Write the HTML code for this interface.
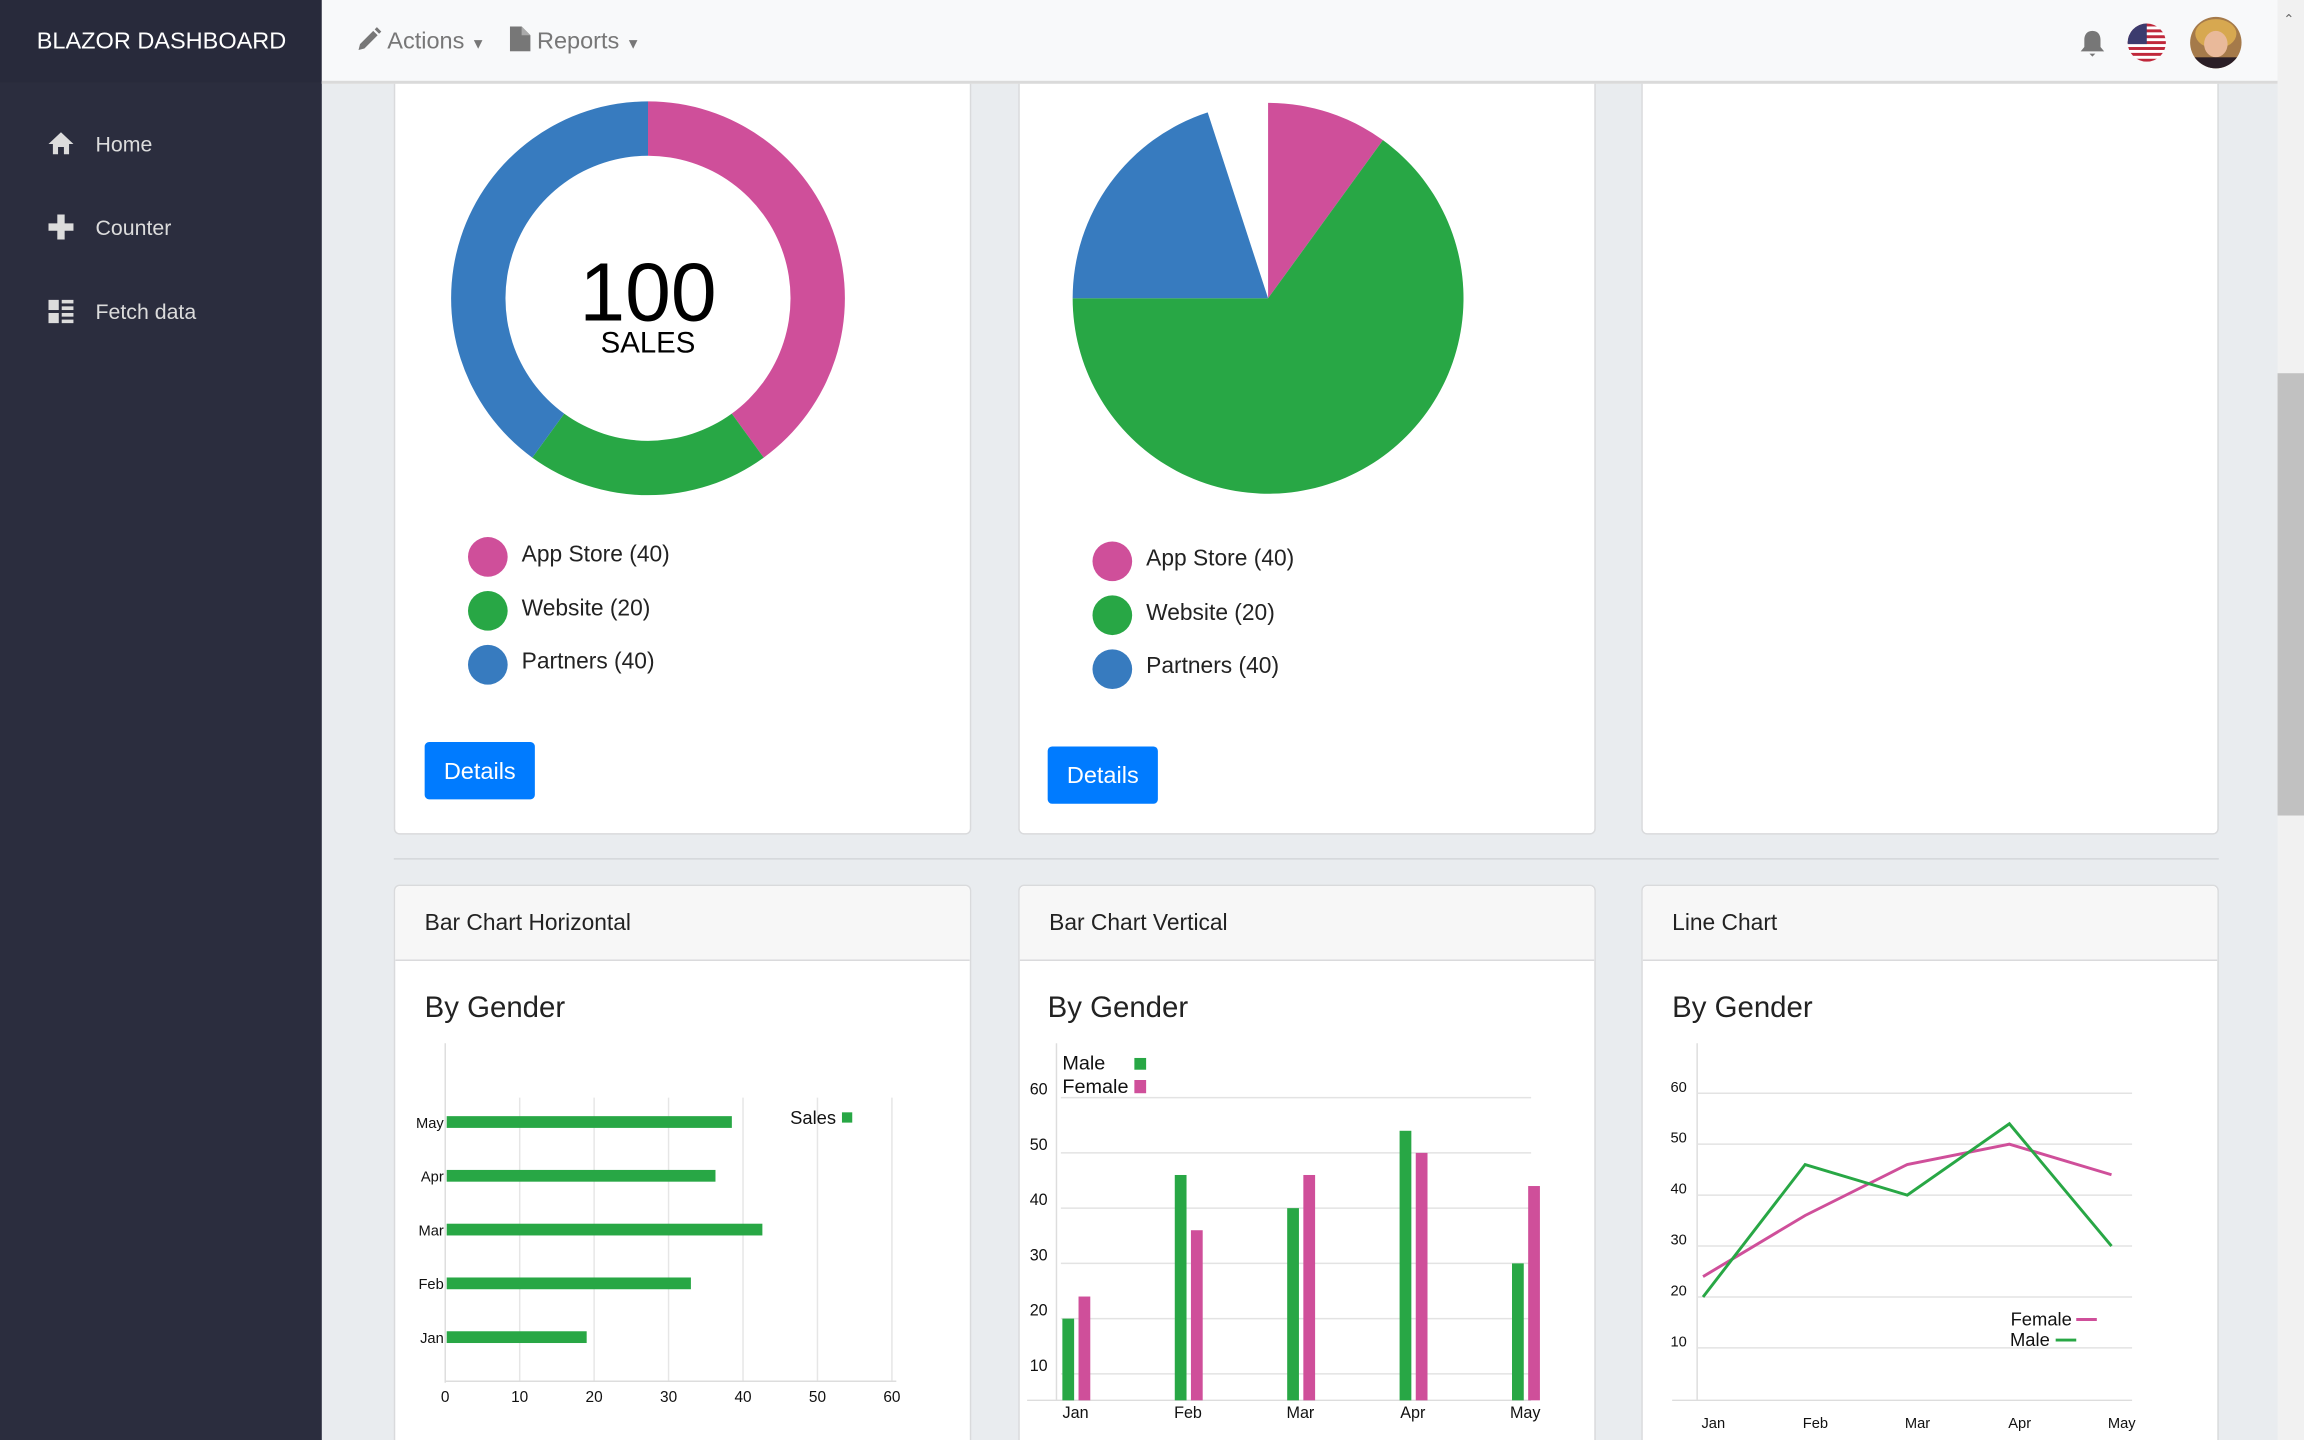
<!DOCTYPE html>
<html><head><meta charset="utf-8">
<style>
html,body{margin:0;padding:0;width:2304px;height:1440px;overflow:hidden;background:#e9ecef;font-family:"Liberation Sans",sans-serif}
#wrap{position:absolute;left:0;top:0;width:1568px;height:980px;overflow:hidden;transform:scale(1.469388);transform-origin:0 0;background:#e9ecef}
.abs{position:absolute}
#side{left:0;top:0;width:219px;height:980px;background:#2b2d3e}
#brand{left:0;top:0;width:219px;height:56px;background:#282a3b;color:#fff;font-size:16px;line-height:58px;text-indent:25px}
.nav{left:0;width:219px;height:30px;color:#dcdcdc;font-size:14.5px;line-height:32px}
.nav span{position:absolute;left:65px}
#top{left:219px;top:0;width:1331px;height:55px;background:#f8f9fa;border-bottom:2px solid #dadada}
.tb{color:#777;font-size:16px;line-height:58px}
.card{background:#fff;border:1px solid #d9dadc;border-radius:4px;box-sizing:border-box}
.hdr{background:#f7f7f7;border-bottom:1px solid #d9dadc;height:50px;line-height:52px;padding-left:20px;font-size:15.5px;color:#222;border-radius:4px 4px 0 0}
.bg{font-size:20px;color:#222}
.leg{font-size:15.5px;color:#222}
.btn{background:#007bff;color:#fff;font-size:16px;border-radius:3px;text-align:center}
#scroll{left:1550px;top:0;width:18px;height:980px;background:#f1f1f1}
</style></head><body>
<div id="wrap">
<div id="side" class="abs"></div>
<div id="brand" class="abs">BLAZOR DASHBOARD</div>
<div class="abs nav" style="top:83px">
 <svg class="abs" style="left:33px;top:6px" width="17" height="17" viewBox="0 0 17 17"><path d="M8.5 1 L17 9 H14 V16 H10.5 V11 H6.5 V16 H3 V9 H0 Z" fill="#dcdcdc"/></svg><span>Home</span></div>
<div class="abs nav" style="top:140px">
 <svg class="abs" style="left:33px;top:6px" width="17" height="17" viewBox="0 0 17 17"><path d="M6 0H11V6H17V11H11V17H6V11H0V6H6Z" fill="#dcdcdc"/></svg><span>Counter</span></div>
<div class="abs nav" style="top:197px">
 <svg class="abs" style="left:33px;top:7px" width="17" height="16" viewBox="0 0 17 16"><g fill="#dcdcdc"><rect x="0" y="0" width="7" height="7"/><rect x="0" y="9" width="7" height="7"/><rect x="9" y="0" width="8" height="2.5"/><rect x="9" y="4.5" width="8" height="2.5"/><rect x="9" y="9" width="8" height="2.5"/><rect x="9" y="13.5" width="8" height="2.5"/></g></svg><span>Fetch data</span></div>

<!-- Row 1 cards -->
<div class="abs card" style="left:268px;top:40px;width:393px;height:528px"></div>
<div class="abs card" style="left:693px;top:40px;width:393px;height:528px"></div>
<div class="abs card" style="left:1117px;top:40px;width:393px;height:528px"></div>

<div id="top" class="abs"></div>
<div class="abs tb" style="left:243px;top:0">
 <svg style="vertical-align:-2px" width="17" height="17" viewBox="0 0 17 17"><path d="M1 16 L2 12 L11 3 L14 6 L5 15 Z M12 2 L13.5 0.5 L16.5 3.5 L15 5 Z" fill="#777"/></svg> Actions <span style="font-size:10px">&#9660;</span></div>
<div class="abs tb" style="left:347px;top:0">
 <svg style="vertical-align:-2px" width="14" height="17" viewBox="0 0 14 17"><path d="M0 0 H8 L14 6 V17 H0 Z" fill="#777"/><path d="M8 0 V6 H14" fill="#aaa"/></svg> Reports <span style="font-size:10px">&#9660;</span></div>
<svg class="abs" style="left:1412px;top:18px" width="24" height="24" viewBox="0 0 24 24"><path d="M12 3 C8 3 6.5 6 6.5 9 V14 L4 17 H20 L17.5 14 V9 C17.5 6 16 3 12 3 Z" fill="#777"/><path d="M10 18.5 H14 L12 20.5 Z" fill="#777"/></svg>
<svg class="abs" style="left:1447px;top:15px" width="28" height="28" viewBox="0 0 28 28">
 <defs><clipPath id="fc"><circle cx="14" cy="14" r="13"/></clipPath></defs>
 <g clip-path="url(#fc)"><rect width="28" height="28" fill="#fff"/>
 <g fill="#c0283b"><rect y="1" width="28" height="2"/><rect y="5" width="28" height="2"/><rect y="9" width="28" height="2"/><rect y="13" width="28" height="2"/><rect y="17" width="28" height="2"/><rect y="21" width="28" height="2"/><rect y="25" width="28" height="2"/></g>
 <rect width="14" height="15" fill="#3c3b6e"/></g></svg>
<svg class="abs" style="left:1490px;top:11px" width="36" height="36" viewBox="0 0 36 36">
 <defs><clipPath id="ac"><circle cx="18" cy="18" r="17.5"/></clipPath></defs>
 <g clip-path="url(#ac)"><rect width="36" height="36" fill="#a57a4a"/><ellipse cx="18" cy="12" rx="14" ry="10" fill="#d7a850"/><ellipse cx="18" cy="19" rx="8" ry="9" fill="#e9b99a"/><rect y="28" width="36" height="10" fill="#2a1e26"/></g></svg>
<div id="scroll" class="abs"><div class="abs" style="left:0;top:254px;width:18px;height:301px;background:#c1c1c1"></div><div class="abs" style="left:4px;top:8px;font-size:9px;color:#666">&#8963;</div></div>

<div class="abs leg" style="left:355px;top:369px">App Store (40)</div>
<div class="abs leg" style="left:355px;top:406px">Website (20)</div>
<div class="abs leg" style="left:355px;top:442px">Partners (40)</div>
<div class="abs btn" style="left:289px;top:505px;width:75px;height:39px;line-height:41px">Details</div>
<div class="abs leg" style="left:780px;top:372px">App Store (40)</div>
<div class="abs leg" style="left:780px;top:409px">Website (20)</div>
<div class="abs leg" style="left:780px;top:445px">Partners (40)</div>
<div class="abs btn" style="left:713px;top:508px;width:75px;height:39px;line-height:41px">Details</div>

<div class="abs" style="left:268px;top:584px;width:1242px;height:1px;background:#d4d6d9"></div>

<!-- Row 2 cards -->
<div class="abs card" style="left:268px;top:602px;width:393px;height:420px"><div class="hdr">Bar Chart Horizontal</div></div>
<div class="abs card" style="left:693px;top:602px;width:393px;height:420px"><div class="hdr">Bar Chart Vertical</div></div>
<div class="abs card" style="left:1117px;top:602px;width:393px;height:420px"><div class="hdr">Line Chart</div></div>
<div class="abs bg" style="left:289px;top:675px">By Gender</div>
<div class="abs bg" style="left:713px;top:675px">By Gender</div>
<div class="abs bg" style="left:1138px;top:675px">By Gender</div>

<svg id="ch" class="abs" style="left:0;top:0" width="1568" height="980" font-family="Liberation Sans, sans-serif"></svg>
</div>
<script>
// Donut
const donutLabels=["App Store","Website","Partners"];
const donutValues=[40,20,40];
const donutColors=["#cf4f9a","#28a745","#377bbf"];
// Pie (fractions of full circle as drawn)
const pieValues=[10,65,20];
// Horizontal bar
const hbarCats=["Jan","Feb","Mar","Apr","May"];
const hbarValues=[19,33,42.6,36.3,38.5];
const hbarTicks=[0,10,20,30,40,50,60];
// Vertical bar
const months=["Jan","Feb","Mar","Apr","May"];
const maleValues=[20,46,40,54,30];
const femaleValues=[24,36,46,50,44];
const vTicks=[10,20,30,40,50,60];
// Line chart
const lineMale=[20,46,40,54,30];
const lineFemale=[24,36,46,50,44];
const lTicks=[10,20,30,40,50,60];

const NS="http://www.w3.org/2000/svg";
const svg=document.getElementById('ch');
function mk(tag,attrs,parent){const e=document.createElementNS(NS,tag);for(const k in attrs)e.setAttribute(k,attrs[k]);(parent||svg).appendChild(e);return e;}
function arcPath(cx,cy,r0,r1,a0,a1){
 const p=(r,a)=>[cx+r*Math.sin(a),cy-r*Math.cos(a)];
 const large=(a1-a0)>Math.PI?1:0;
 const [x1,y1]=p(r1,a0),[x2,y2]=p(r1,a1);
 if(r0===0)return `M${cx},${cy}L${x1},${y1}A${r1},${r1} 0 ${large} 1 ${x2},${y2}Z`;
 const [x3,y3]=p(r0,a1),[x4,y4]=p(r0,a0);
 return `M${x1},${y1}A${r1},${r1} 0 ${large} 1 ${x2},${y2}L${x3},${y3}A${r0},${r0} 0 ${large} 0 ${x4},${y4}Z`;
}
// donut
{let tot=donutValues.reduce((a,b)=>a+b,0),a=0;
donutValues.forEach((v,i)=>{const a1=a+v/tot*2*Math.PI;
 const e=mk('path',{d:arcPath(441,203,97,134,a,a1),fill:donutColors[i]});
 
 a=a1;});
let t=mk('text',{x:441,y:218,'text-anchor':'middle','font-size':56,fill:'#000'});t.textContent='100';

t=mk('text',{x:441,y:240,'text-anchor':'middle','font-size':20,fill:'#000'});t.textContent='SALES';

donutColors.forEach((c,i)=>{const e=mk('circle',{cx:332,cy:379+i*36.7,r:13.5,fill:c});
 
 const f=mk('circle',{cx:757,cy:382+i*36.7,r:13.5,fill:c});
 });
}
// pie
{let a=0;
pieValues.forEach((v,i)=>{const a1=a+v/100*2*Math.PI;
 const e=mk('path',{d:arcPath(863,203,0,133,a,a1),fill:donutColors[i]});
 
 a=a1;});}

// horizontal bar
{const x0=303,xs=(607-303)/60,x=v=>x0+v*xs;
const yc=i=>910-i*36.6;
mk('line',{x1:303,y1:710,x2:303,y2:941,stroke:'#ddd'});
hbarTicks.forEach(t=>{
 if(t>0){const g=mk('line',{x1:x(t),y1:747,x2:x(t),y2:940,stroke:'#e6e6e6'});
 }
 const l=mk('text',{x:x(t),y:954,'text-anchor':'middle','font-size':10.5,fill:'#111'});l.textContent=t;
 });
mk('line',{x1:303,y1:940,x2:610,y2:940,stroke:'#ddd'});
hbarCats.forEach((c,i)=>{
 const b=mk('rect',{x:x0+1,y:yc(i)-4,width:x(hbarValues[i])-x0-1,height:8,fill:'#28a745'});
 
 const l=mk('text',{x:302,y:yc(i)+4,'text-anchor':'end','font-size':10,fill:'#111'});l.textContent=c;
 });
let t=mk('text',{x:569,y:765,'text-anchor':'end','font-size':12.5,fill:'#111'});t.textContent='Sales';

const s=mk('rect',{x:573,y:757,width:7,height:7,fill:'#28a745'});
}

// vertical bar
{const y=v=>935-(v-10)*(935-747)/50;const xc=i=>732+i*76.5;
mk('line',{x1:719,y1:710,x2:719,y2:953,stroke:'#ddd'});
vTicks.forEach(t=>{const g=mk('line',{x1:722,y1:y(t),x2:1042,y2:y(t),stroke:'#e3e3e3'});
 
 const l=mk('text',{x:713,y:y(t)-2,'text-anchor':'end','font-size':11,fill:'#111'});l.textContent=t;
 });
mk('line',{x1:699,y1:953,x2:1042,y2:953,stroke:'#ddd'});
months.forEach((m,i)=>{
 const a=mk('rect',{x:xc(i)-9,y:y(maleValues[i]),width:8,height:953-y(maleValues[i]),fill:'#28a745'});
 
 const b=mk('rect',{x:xc(i)+2,y:y(femaleValues[i]),width:8,height:953-y(femaleValues[i]),fill:'#cf4f9a'});
 
 const l=mk('text',{x:xc(i),y:965,'text-anchor':'middle','font-size':11,fill:'#111'});l.textContent=m;
 });
let t=mk('text',{x:723,y:728,'font-size':13.5,fill:'#111'});t.textContent='Male';

t=mk('text',{x:723,y:744,'font-size':13.5,fill:'#111'});t.textContent='Female';

let s=mk('rect',{x:772,y:720,width:8,height:8,fill:'#28a745'});
s=mk('rect',{x:772,y:735,width:8,height:9,fill:'#cf4f9a'});}

// line chart
{const y=v=>952-v*(952-744)/60;const x=i=>1159+i*69.5;
mk('line',{x1:1155,y1:710,x2:1155,y2:953,stroke:'#ddd'});
lTicks.forEach(t=>{const g=mk('line',{x1:1155,y1:y(t),x2:1451,y2:y(t),stroke:'#e3e3e3'});
 
 const l=mk('text',{x:1148,y:y(t)-1,'text-anchor':'end','font-size':10,fill:'#111'});l.textContent=t;
 });
mk('line',{x1:1138,y1:953,x2:1451,y2:953,stroke:'#ddd'});
months.forEach((m,i)=>{const l=mk('text',{x:x(i)+7,y:972,'text-anchor':'middle','font-size':10,fill:'#111'});l.textContent=m;
 });
let p=mk('polyline',{points:lineFemale.map((v,i)=>x(i)+','+y(v)).join(' '),fill:'none',stroke:'#cf4f9a','stroke-width':2});

p=mk('polyline',{points:lineMale.map((v,i)=>x(i)+','+y(v)).join(' '),fill:'none',stroke:'#28a745','stroke-width':2});

let t=mk('text',{x:1410,y:902,'text-anchor':'end','font-size':12.5,fill:'#111'});t.textContent='Female';

t=mk('text',{x:1395,y:916,'text-anchor':'end','font-size':12.5,fill:'#111'});t.textContent='Male';

let s=mk('line',{x1:1413,y1:898,x2:1427,y2:898,stroke:'#cf4f9a','stroke-width':2});
s=mk('line',{x1:1399,y1:912,x2:1413,y2:912,stroke:'#28a745','stroke-width':2});}
</script>
</body></html>
